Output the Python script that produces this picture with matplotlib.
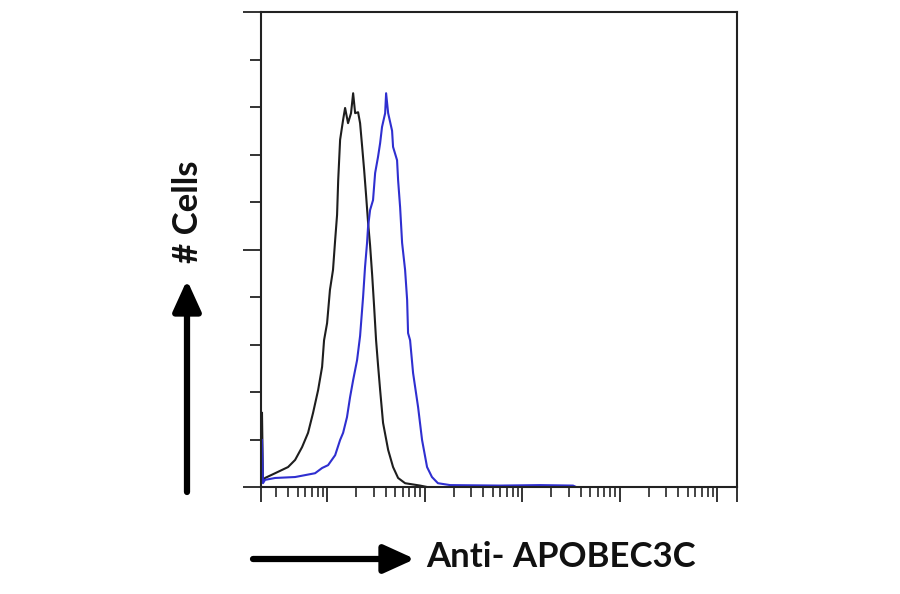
import numpy as np
import matplotlib
matplotlib.use("Agg")
import matplotlib.pyplot as plt
from matplotlib.ticker import FixedLocator, NullFormatter

# ---- data (fluorescence intensity, relative cell count) ----
iso_x = [2.15, 2.20, 2.31, 2.93, 3.98, 4.70, 5.54, 6.38, 7.18, 8.09, 8.89, 9.31,
         10.0, 10.7, 11.5, 12.1, 12.66, 13.0, 13.6, 14.6, 15.3, 16.4, 17.6, 18.5,
         19.4, 20.8, 21.8, 22.9, 24.0, 25.1, 26.3, 27.6, 29.0, 30.3, 31.8, 33.3,
         35.0, 37.5, 42.3, 47.5, 53.5, 63.1, 89.9, 106.0]
iso_y = [15.6, 1.1, 1.9, 2.9, 4.2, 5.7, 8.4, 11.4, 15.6, 20.4, 25.3, 30.9,
         34.5, 41.5, 45.7, 52.0, 57.3, 64.6, 73.1, 77.3, 79.8, 76.6, 78.7, 82.9,
         78.7, 78.9, 76.6, 71.6, 66.7, 61.5, 55.8, 50.9, 44.6, 38.3, 30.9, 25.7,
         20.4, 13.5, 7.8, 4.2, 1.9, 0.8, 0.3, 0.0]

apo_x = [2.15, 2.20, 2.31, 2.93, 4.70, 5.95, 7.53, 8.89, 10.24, 12.1, 13.6, 14.6,
         16.0, 17.2, 18.5, 20.3, 21.8, 23.4, 24.5, 25.7, 26.3, 27.6, 29.6, 31.1,
         33.3, 35.0, 36.6, 39.4, 40.3, 42.3, 46.4, 47.5, 52.2, 53.5, 56.1, 58.8,
         63.1, 66.2, 67.7, 71.0, 76.2, 85.8, 94.2, 106.0, 119.0, 137.0, 183.0,
         594.0, 1531.0, 3330.0, 3580.0]
apo_y = [9.9, 0.8, 1.5, 1.9, 2.1, 2.5, 2.9, 4.0, 4.6, 6.7, 9.9, 11.4,
         14.7, 18.9, 22.5, 26.7, 31.8, 40.0, 46.3, 51.4, 54.7, 58.3, 60.4, 66.1,
         69.5, 72.4, 75.8, 78.7, 82.9, 78.7, 75.0, 71.6, 68.8, 64.6, 58.9, 51.4,
         45.7, 39.4, 32.4, 30.9, 24.0, 16.8, 9.9, 4.2, 2.1, 0.8, 0.4,
         0.3, 0.4, 0.3, 0.0]

x_range = [2.10, 1.6e5]
y_range = [0, 100]
y_ticks = list(range(0, 101, 10))
y_major_ticks = [0, 50, 100]
x_major_ticks = [2.10, 10, 100, 1000, 1e4, 1e5, 1.6e5]

W, H = 900, 594
fig = plt.figure(figsize=(W / 100, H / 100), dpi=100)
ax = fig.add_axes([261 / W, 1 - 487 / H, (737 - 261) / W, (487 - 12) / H])

ax.plot(iso_x, iso_y, color="#1e1e1e", lw=1.5)
ax.plot(apo_x, apo_y, color="#2f2fd0", lw=1.5)

ax.set_xscale("log")
ax.set_xlim(*x_range)
ax.set_ylim(*y_range)

# x ticks
minors = [m * 10.0 ** d for d in range(0, 6) for m in range(2, 10)]
minors = [v for v in minors if x_range[0] * 1.05 < v < x_range[1] * 0.97]
ax.xaxis.set_major_locator(FixedLocator(x_major_ticks))
ax.xaxis.set_minor_locator(FixedLocator(minors))
ax.xaxis.set_major_formatter(NullFormatter())
ax.xaxis.set_minor_formatter(NullFormatter())
ax.tick_params(axis="x", which="major", direction="out", length=11, width=1.4, color="#333333")
ax.tick_params(axis="x", which="minor", direction="out", length=7, width=1.4, color="#444444")

# y ticks
ax.yaxis.set_major_locator(FixedLocator(y_major_ticks))
ax.yaxis.set_minor_locator(FixedLocator([t for t in y_ticks if t not in y_major_ticks]))
ax.yaxis.set_major_formatter(NullFormatter())
ax.tick_params(axis="y", which="major", direction="out", length=13, width=1.4, color="#333333")
ax.tick_params(axis="y", which="minor", direction="out", length=8, width=1.4, color="#333333")

for s in ax.spines.values():
    s.set_linewidth(1.5)
    s.set_color("#222222")

# arrows and labels (figure pixel coords)
arrow_props = dict(arrowstyle="-|>,head_length=1.1,head_width=0.5", lw=4.5,
                   color="black", mutation_scale=17, shrinkA=0, shrinkB=0)
ax.annotate("", xy=(187, H - 280), xytext=(187, H - 492), xycoords="figure pixels",
            textcoords="figure pixels", arrowprops=arrow_props)
ax.annotate("", xy=(415, H - 559), xytext=(253, H - 559), xycoords="figure pixels",
            textcoords="figure pixels", arrowprops=arrow_props)

fig.text(188 / W, 1 - 212 / H, "# Cells", rotation=90, ha="center", va="center",
         fontsize=25, fontweight="bold", family=["Lato", "DejaVu Sans"], color="#111111")
fig.text(426 / W, 1 - 557 / H, "Anti- APOBEC3C", ha="left", va="center",
         fontsize=25, fontweight="bold", family=["Lato", "DejaVu Sans"], color="#111111")

fig.savefig("out.png", dpi=100)
